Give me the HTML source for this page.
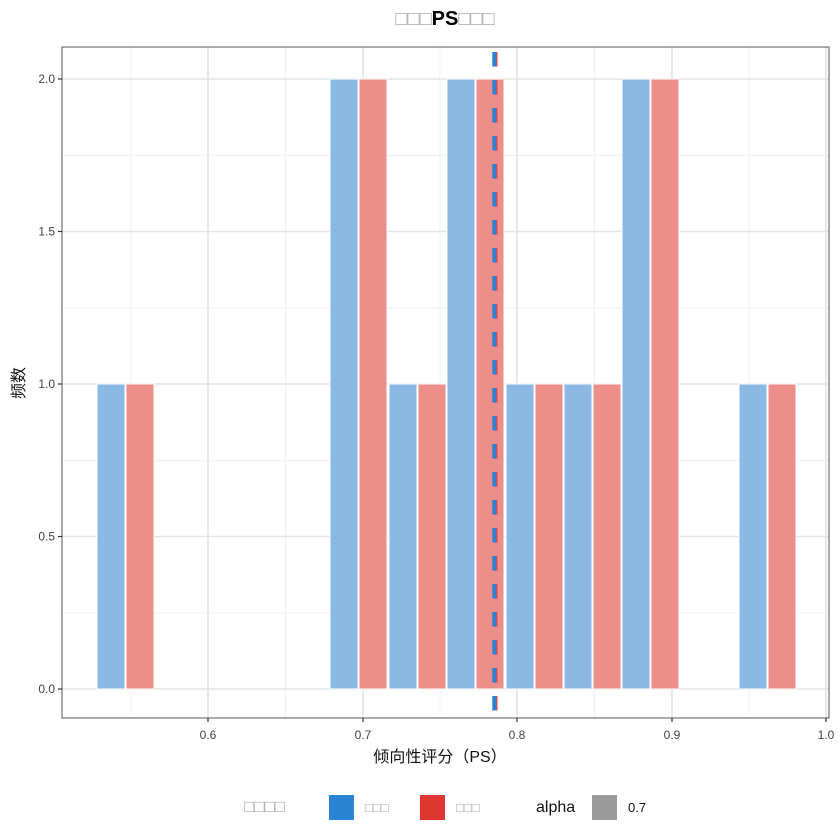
<!DOCTYPE html>
<html><head><meta charset="utf-8"><style>body{margin:0;background:#fff}svg{display:block}</style></head><body>
<svg width="840" height="840" xmlns="http://www.w3.org/2000/svg" font-family="Liberation Sans, Noto Sans CJK SC, sans-serif">
<rect width="840" height="840" fill="#fff"/>
<g stroke="#efefef" stroke-width="1">
<line x1="62" x2="829" y1="155.5" y2="155.5"/><line x1="62" x2="829" y1="308" y2="308"/><line x1="62" x2="829" y1="460.5" y2="460.5"/><line x1="62" x2="829" y1="613" y2="613"/>
<line y1="47" y2="718" x1="131" x2="131"/><line y1="47" y2="718" x1="285.5" x2="285.5"/><line y1="47" y2="718" x1="440" x2="440"/><line y1="47" y2="718" x1="594.5" x2="594.5"/><line y1="47" y2="718" x1="749" x2="749"/>
</g>
<g stroke="#e3e3e3" stroke-width="1.6">
<line x1="62" x2="829" y1="79" y2="79"/><line x1="62" x2="829" y1="231.5" y2="231.5"/><line x1="62" x2="829" y1="384" y2="384"/><line x1="62" x2="829" y1="536.5" y2="536.5"/><line x1="62" x2="829" y1="689" y2="689"/>
<line y1="47" y2="718" x1="208" x2="208"/><line y1="47" y2="718" x1="363" x2="363"/><line y1="47" y2="718" x1="517" x2="517"/><line y1="47" y2="718" x1="672" x2="672"/><line y1="47" y2="718" x1="826" x2="826"/>
</g>
<g stroke="#fff" stroke-width="1">
<rect x="97" y="384" width="28" height="305" fill="#8bb9e4"/><rect x="126" y="384" width="28" height="305" fill="#ec8f8b"/>
<rect x="330" y="79" width="28" height="610" fill="#8bb9e4"/><rect x="359" y="79" width="28" height="610" fill="#ec8f8b"/>
<rect x="389" y="384" width="28" height="305" fill="#8bb9e4"/><rect x="418" y="384" width="28" height="305" fill="#ec8f8b"/>
<rect x="447" y="79" width="28" height="610" fill="#8bb9e4"/><rect x="476" y="79" width="28" height="610" fill="#ec8f8b"/>
<rect x="506" y="384" width="28" height="305" fill="#8bb9e4"/><rect x="535" y="384" width="28" height="305" fill="#ec8f8b"/>
<rect x="564" y="384" width="28" height="305" fill="#8bb9e4"/><rect x="593" y="384" width="28" height="305" fill="#ec8f8b"/>
<rect x="622" y="79" width="28" height="610" fill="#8bb9e4"/><rect x="651" y="79" width="28" height="610" fill="#ec8f8b"/>
<rect x="739" y="384" width="28" height="305" fill="#8bb9e4"/><rect x="768" y="384" width="28" height="305" fill="#ec8f8b"/>
</g>
<line x1="495.5" x2="495.5" y1="52" y2="718" stroke="#e8433e" stroke-width="4" stroke-dasharray="14.5 13.5"/>
<line x1="494.3" x2="494.3" y1="52" y2="718" stroke="#2f80d0" stroke-width="4" stroke-dasharray="14.5 13.5"/>
<rect x="62" y="47" width="767" height="671" fill="none" stroke="#555" stroke-width="1"/>
<g stroke="#333" stroke-width="1.2">
<line x1="58" x2="62" y1="79" y2="79"/><line x1="58" x2="62" y1="231.5" y2="231.5"/><line x1="58" x2="62" y1="384" y2="384"/><line x1="58" x2="62" y1="536.5" y2="536.5"/><line x1="58" x2="62" y1="689" y2="689"/>
<line y1="718" y2="722" x1="208" x2="208"/><line y1="718" y2="722" x1="363" x2="363"/><line y1="718" y2="722" x1="517" x2="517"/><line y1="718" y2="722" x1="672" x2="672"/><line y1="718" y2="722" x1="826" x2="826"/>
</g>
<g font-size="12" fill="#444" text-anchor="end">
<text x="55" y="83">2.0</text><text x="55" y="235.5">1.5</text><text x="55" y="388">1.0</text><text x="55" y="540.5">0.5</text><text x="55" y="693">0.0</text>
</g>
<g font-size="12" fill="#444" text-anchor="middle">
<text x="208" y="739">0.6</text><text x="363" y="739">0.7</text><text x="517" y="739">0.8</text><text x="672" y="739">0.9</text><text x="826" y="739">1.0</text>
</g>
<text x="440" y="762" font-size="16" text-anchor="middle" fill="#111">倾向性评分（PS）</text>
<text transform="translate(24,383) rotate(-90)" font-size="16" text-anchor="middle" fill="#111">频数</text>
<text x="445" y="25" font-size="20" text-anchor="middle" font-weight="bold"><tspan fill="#aaa" font-weight="normal">□□□</tspan>PS<tspan fill="#aaa" font-weight="normal">□□□</tspan></text>
<text x="244" y="812" font-size="17" fill="#aaa">□□□□</text>
<rect x="329" y="795" width="25" height="25" fill="#2b84d3"/>
<text x="365" y="812" font-size="13" fill="#aaa">□□□</text>
<rect x="420" y="795" width="25" height="25" fill="#e03631"/>
<text x="456" y="812" font-size="13" fill="#aaa">□□□</text>
<text x="536" y="812" font-size="16" fill="#111">alpha</text>
<rect x="592" y="795" width="25" height="25" fill="#9a9a9a"/>
<text x="628" y="812" font-size="13" fill="#111">0.7</text>
</svg>
</body></html>
